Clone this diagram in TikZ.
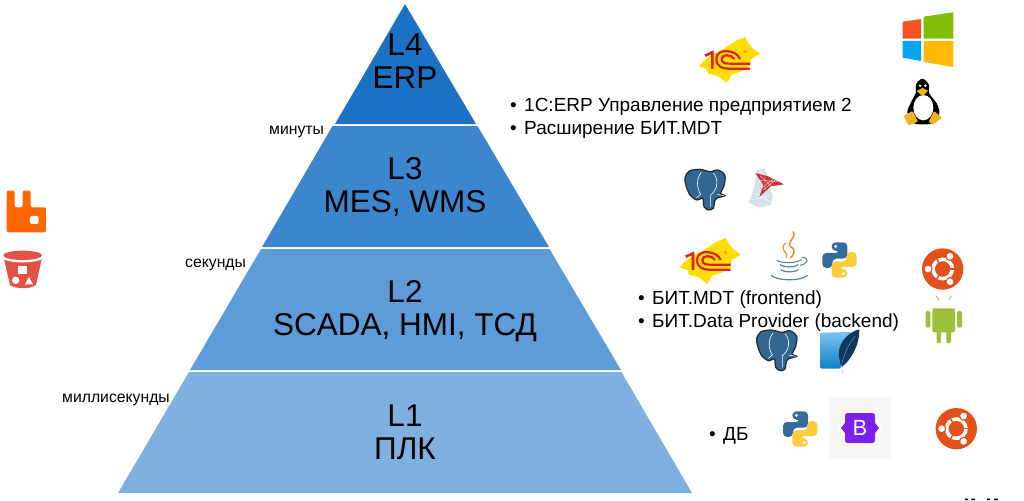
\documentclass[tikz,border=0pt]{standalone}
\usepackage{fontspec}
\setmainfont{Liberation Sans}

\definecolor{layerfour}{HTML}{1B72C4}
\definecolor{layerthree}{HTML}{3C86CE}
\definecolor{layertwo}{HTML}{5E9CD9}
\definecolor{layerone}{HTML}{80B0E0}
\definecolor{pgblue}{HTML}{336791}
\definecolor{pyblue}{HTML}{366C9C}
\definecolor{pyyellow}{HTML}{FDCD3C}
\definecolor{ubuorange}{HTML}{E2501C}
\definecolor{droidgreen}{HTML}{9BC13A}
\definecolor{onecred}{HTML}{D8232A}
\definecolor{onecyellow}{HTML}{FFDD00}
\definecolor{winred}{HTML}{F35325}
\definecolor{wingreen}{HTML}{81BC06}
\definecolor{winblue}{HTML}{05A6F0}
\definecolor{winyellow}{HTML}{FFBA08}
\definecolor{bucketred}{HTML}{E05243}
\definecolor{rabbitorange}{HTML}{FF6600}
\definecolor{bootviolet}{HTML}{7B1FEE}
\definecolor{mssqlgrey}{HTML}{D5DFE8}
\definecolor{mssqlred}{HTML}{C8312F}
\definecolor{javablue}{HTML}{5382A1}
\definecolor{javaorange}{HTML}{EB8F2D}
\definecolor{liteblue}{HTML}{0F80CC}
\definecolor{litesky}{HTML}{7CC4EE}
\definecolor{litenavy}{HTML}{0B3A5C}
\definecolor{tuxgold}{HTML}{F0B41E}

\tikzset{
  logogrid/.style={x=0.3333pt, y=-0.3333pt},
  % 1C brush with letters
  logoonec/.pic={
    \begin{scope}[logogrid]
      \fill[onecyellow] (12,100) -- (25,85) -- (50,65) -- (85,48) -- (125,22) -- (150,12) -- (160,30) -- (172,45)
        -- (195,62) -- (168,78) -- (165,100) -- (140,115) -- (110,125) -- (95,150) -- (70,130) -- (40,122) -- (35,108) -- cycle;
      \draw[onecred, line width=2.6pt] (30,68) -- (52,58) -- (52,108);
      \draw[onecred, line width=2.2pt] (135,78) .. controls (125,50) and (64,43) .. (64,78) .. controls (64,102) and (85,107) .. (100,107) -- (165,107);
      \draw[onecred, line width=2.2pt] (118,78) .. controls (110,64) and (80,62) .. (80,78) .. controls (80,92) and (95,92) .. (105,92) -- (165,92);
      \fill[orange!80!yellow] (150,56) circle (5);
    \end{scope}
  },
  % elephant
  logopg/.pic={
    \begin{scope}[logogrid]
      \draw[black!85, fill=pgblue, line width=1.2pt] plot[smooth cycle] coordinates {(15,38) (28,18) (60,13) (90,20) (115,15) (135,32) (132,62) (122,85) (135,92) (110,100) (103,112) (100,130) (85,135) (72,125) (68,100) (50,105) (30,90) (18,62)};
      \draw[white, line width=0.6pt] (64,22) .. controls (48,42) and (50,70) .. (62,88);
      \draw[white, line width=0.6pt] (100,24) .. controls (118,45) and (112,75) .. (92,90) -- (92,125);
      \draw[white, line width=0.6pt] (62,88) -- (50,98);
      \draw[white, line width=0.6pt] (112,88) -- (132,92);
    \end{scope}
  },
  % two snakes
  logopython/.pic={
    \begin{scope}[logogrid]
      \fill[pyblue, rounded corners=4pt] (200,43) -- (247,43) -- (247,92) -- (202,92) -- (202,120) -- (172,120) -- (172,75) -- (224,75) -- (224,68) -- (200,68) -- cycle;
      \fill[pyyellow, rounded corners=4pt] (247,149) -- (200,149) -- (200,100) -- (245,100) -- (245,72) -- (275,72) -- (275,117) -- (223,117) -- (223,124) -- (247,124) -- cycle;
      \fill[white] (212,55) circle (5);
      \fill[white] (235,137) circle (5);
    \end{scope}
  },
  % circle of friends
  logoubuntu/.pic={
    \begin{scope}[logogrid]
      \fill[ubuorange] (0,0) circle (62);
      \draw[white, line width=3.6pt] (0,0) circle (29);
      \foreach \ang in {0,120,240} {\draw[ubuorange, line width=1.5pt] (\ang:18) -- (\ang:38);}
      \foreach \ang in {60,180,300} {
        \fill[ubuorange] (\ang:44) circle (14);
        \fill[white] (\ang:44) circle (10);
      }
    \end{scope}
  }
}

\begin{document}
\begin{tikzpicture}[
    x=1pt, y=-1pt,
    layerlabel/.style={font=\fontsize{31.5}{33}\selectfont, align=center, inner sep=0pt},
    timelabel/.style={font=\fontsize{15.75}{17}\selectfont, anchor=base west, inner sep=0pt},
    itemlabel/.style={font=\fontsize{19}{21}\selectfont, anchor=base west, inner sep=0pt}
  ]
  \useasboundingbox (0,0) rectangle (1024,500);

  % Pyramid layers
  \fill[layerfour] (405,4) -- (476,124) -- (335,124) -- cycle;
  \fill[layerthree] (332.5,126) -- (477.5,126) -- (549,247) -- (262,247) -- cycle;
  \fill[layertwo] (261,249) -- (549.5,249) -- (621,370) -- (190,370) -- cycle;
  \fill[layerone] (189,372) -- (621.5,372) -- (692,493) -- (118,493) -- cycle;

  \node[layerlabel] (lfour) at (405,61) {L4\\ERP};
  \node[layerlabel] (lthree) at (405,187) {L3\\MES, WMS};
  \node[layerlabel] (ltwo) at (405,311) {L2\\SCADA, HMI, ТСД};
  \node[layerlabel] (lone) at (405,432) {L1\\ПЛК};

  % Time labels
  \node[timelabel] (tmin) at (269,134) {минуты};
  \node[timelabel] (tsec) at (185,267) {секунды};
  \node[timelabel] (tmsec) at (62,402) {миллисекунды};

  % Logos
  \pic at (695,33) {logoonec};
  \pic at (675.7,234) {logoonec};
  \pic at (680,165) {logopg};
  \pic at (751.7,325.7) {logopg};
  \pic at (765,228) {logopython};
  \pic at (725.7,397) {logopython};
  \pic at (942.7,269) {logoubuntu};
  \pic at (956.3,428.7) {logoubuntu};

  % Windows
  \fill[winred] (902.7,21.7) -- (921,19) -- (921,38.7) -- (902.7,38.7) -- cycle;
  \fill[wingreen] (923.7,16.7) -- (953.3,12.3) -- (953.3,38.7) -- (923.7,38.7) -- cycle;
  \fill[winblue] (902.7,41) -- (921,41) -- (921,61) -- (902.7,57.7) -- cycle;
  \fill[winyellow] (923.7,41) -- (953.3,41) -- (953.3,67) -- (923.7,62) -- cycle;

  % Tux
  \begin{scope}[shift={(900,75)}, logogrid]
    \fill[black] plot[smooth cycle] coordinates {(67,11) (86,28) (88,55) (110,85) (118,115) (100,145) (42,145) (22,112) (34,80) (48,52) (48,28)};
    \fill[white] (70,98) ellipse (30 and 38);
    \fill[white] (60,32) circle (4);
    \fill[white] (76,32) circle (4);
    \fill[tuxgold] (50,48) -- (68,39) -- (84,47) -- (68,64) -- cycle;
    \fill[tuxgold, rounded corners=1pt] (11,122) -- (38,108) -- (54,140) -- (25,151) -- cycle;
    \fill[tuxgold, rounded corners=1pt] (102,108) -- (126,128) -- (98,150) -- (86,140) -- cycle;
  \end{scope}

  % SQL Server
  \begin{scope}[shift={(680,165)}, logogrid]
    \fill[mssqlgrey] (232,15) -- (255,10) -- (264,40) -- (278,95) -- (272,120) -- (235,127) -- (207,112) -- (222,70) -- cycle;
    \draw[white, line width=0.4pt] (212,105) -- (272,90) (226,85) -- (274,112) (240,70) -- (240,126) (258,70) -- (258,124) (235,15) -- (262,40);
    \fill[mssqlred] (226,24) -- (262,33) -- (312,58) -- (272,64) -- (238,96) -- (250,60) -- cycle;
    \draw[white, line width=0.3pt] (240,32) -- (272,62) (255,30) -- (255,75) (232,45) -- (295,50) (285,45) -- (250,75) (245,70) -- (280,42);
  \end{scope}

  % Java
  \begin{scope}[shift={(765,228)}, logogrid]
    \draw[javaorange, line width=1.6pt] (85,10) .. controls (95,35) and (55,45) .. (85,62) .. controls (90,72) and (85,82) .. (76,90);
    \draw[javaorange, line width=1.2pt] (62,45) .. controls (40,65) and (70,72) .. (65,90);
    \draw[javablue, line width=1pt] (35,97) .. controls (55,108) and (95,105) .. (110,95);
    \draw[javablue, line width=1pt] (110,88) .. controls (135,88) and (130,108) .. (105,112);
    \draw[javablue, line width=1.2pt] (45,110) .. controls (60,120) and (90,118) .. (100,110);
    \draw[javablue, line width=1.2pt] (47,125) .. controls (60,135) and (90,133) .. (100,125);
    \draw[javablue, line width=1.2pt] (18,142) .. controls (40,160) and (105,160) .. (128,142);
  \end{scope}

  % Android
  \begin{scope}[shift={(915,245)}, logogrid]
    \fill[droidgreen] (52,190) arc[start angle=180, end angle=0, x radius=34, y radius=32] -- cycle;
    \fill[droidgreen, rounded corners=2pt] (52,195) -- (120,195) -- (120,262) -- (52,262) -- cycle;
    \fill[droidgreen, rounded corners=2pt] (32,198) rectangle (46,248);
    \fill[droidgreen, rounded corners=2pt] (126,198) rectangle (141,248);
    \fill[droidgreen, rounded corners=2pt] (65,255) rectangle (78,295);
    \fill[droidgreen, rounded corners=2pt] (94,255) rectangle (108,295);
    \draw[droidgreen, line width=0.7pt] (63,152) -- (72,166) (110,152) -- (100,166);
    \fill[white] (70,178) circle (3) (102,178) circle (3);
  \end{scope}

  % SQLite
  \begin{scope}[shift={(750,328)}, logogrid]
    \shade[top color=litesky, bottom color=liteblue, rounded corners=1.5pt] (210,14) -- (305,12) -- (280,60) -- (272,122) -- (210,122) -- cycle;
    \fill[litenavy] (328,4) .. controls (290,12) and (258,55) .. (268,92) -- (274,118) .. controls (302,98) and (330,50) .. cycle;
    \draw[gray!50, line width=0.5pt] (274,110) -- (278,138);
    \draw[litesky, line width=0.3pt] (276,105) .. controls (285,70) and (298,45) .. (315,25);
  \end{scope}

  % Bootstrap
  \fill[black!3] (829,397) rectangle (891,459);
  \fill[white, rounded corners=3pt] (843,411) rectangle (877,445);
  \fill[white] (843,421) -- (838,428) -- (843,435) -- cycle;
  \fill[white] (877,421) -- (882,428) -- (877,435) -- cycle;
  \fill[bootviolet, rounded corners=2.5pt] (845,413) rectangle (875,443);
  \fill[bootviolet] (845,423) -- (841,428) -- (845,433) -- cycle;
  \fill[bootviolet] (875,423) -- (879,428) -- (875,433) -- cycle;
  \node[font=\fontsize{22}{24}\selectfont, text=white, inner sep=0pt] (bsletter) at (860,428) {B};

  % RabbitMQ
  \begin{scope}[shift={(0,170)}, logogrid]
    \fill[rabbitorange, rounded corners=2pt] (20,62) -- (44,62) -- (44,112) -- (68,112) -- (68,62) -- (92,62) -- (92,112) -- (138,112) -- (138,187) -- (20,187) -- cycle;
    \fill[white, rounded corners=1.5pt] (90,138) rectangle (116,162);
  \end{scope}

  % Bucket
  \begin{scope}[shift={(0,170)}, logogrid]
    \fill[bucketred] (10,258) -- (30,345) .. controls (50,358) and (90,358) .. (108,345) -- (127,258) -- cycle;
    \fill[white] (68,262) ellipse (62 and 15);
    \fill[bucketred] (68,256) ellipse (58 and 14);
    \fill[white] (55,287) rectangle (80,311);
    \fill[white] (47,331) circle (11);
    \fill[white] (87,321) -- (99,343) -- (75,343) -- cycle;
  \end{scope}

  % Item lists
  \node[itemlabel] (erpone) at (510,112) {\makebox[14pt][l]{•}1С:ERP Управление предприятием 2};
  \node[itemlabel] (erptwo) at (510,135) {\makebox[14pt][l]{•}Расширение БИТ.MDT};
  \node[itemlabel] (scadaone) at (638,304) {\makebox[14pt][l]{•}БИТ.MDT (frontend)};
  \node[itemlabel] (scadatwo) at (638,327) {\makebox[14pt][l]{•}БИТ.Data Provider (backend)};
  \node[itemlabel] (plcone) at (709,440) {\makebox[14pt][l]{•}ДБ};

  % Cropped bit at the lower edge
  \fill[black] (965,498.5) rectangle (968,500) (971,498.5) rectangle (975,500) (987,498.5) rectangle (990,500) (994,498.5) rectangle (998,500);
\end{tikzpicture}
\end{document}
